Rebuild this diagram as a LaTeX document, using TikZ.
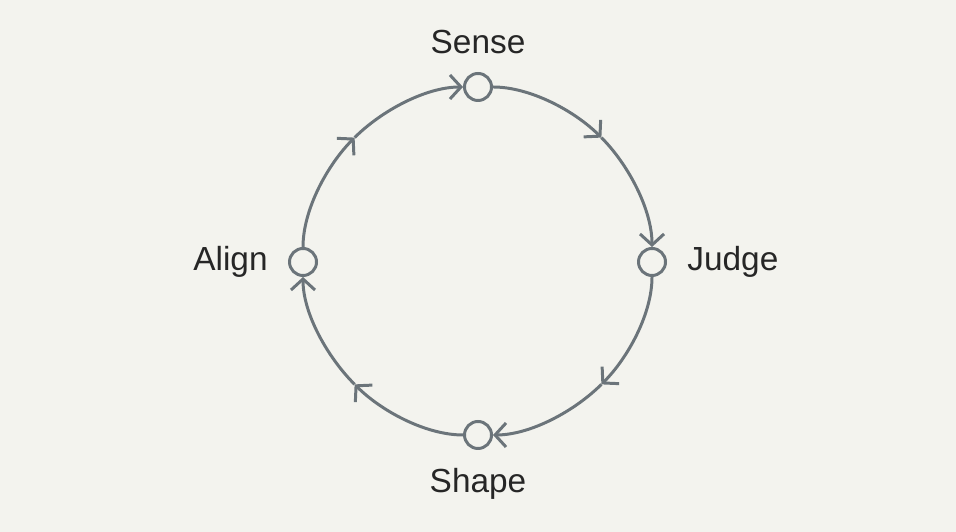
\documentclass[tikz,border=0pt]{standalone}
\usepackage{fontspec}
\setmainfont{Liberation Sans}
\usetikzlibrary{arrows.meta,calc}
\definecolor{loopgray}{HTML}{6B747A}
\definecolor{paper}{HTML}{F3F3EE}
\tikzset{
  stage/.style={circle, draw=loopgray, line width=0.85pt, fill=paper,
    minimum size=0.27cm, inner sep=0pt},
  stagelabel/.style={text=black!85, font=\fontsize{9.5}{12}\selectfont},
  flow/.style={draw=loopgray, line width=0.85pt, looseness=0.8,
    -{Straight Barb[length=1.1mm,width=2.4mm]}}
}
\begin{document}
\begin{tikzpicture}
    % Fond et cadre
    \fill[paper] (0,0) rectangle (9.56,5.32);
    \useasboundingbox (0,0) rectangle (9.56,5.32);

    % Les quatre etapes
    \node[stage] (sense) at (4.78,4.45) {};
    \node[stage] (judge) at (6.52,2.70) {};
    \node[stage] (shape) at (4.78,0.97) {};
    \node[stage] (align) at (3.03,2.70) {};

    % Milieux des arcs
    \coordinate (senseJudge) at ($(4.78,2.71)+(45:1.745)$);
    \coordinate (judgeShape) at ($(4.78,2.71)+(-45:1.745)$);
    \coordinate (shapeAlign) at ($(4.78,2.71)+(-135:1.745)$);
    \coordinate (alignSense) at ($(4.78,2.71)+(135:1.745)$);

    % Etiquettes
    \node[stagelabel, above=0.06cm] (senselbl) at (sense.north) {Sense};
    \node[stagelabel, right=0.08cm] (judgelbl) at (judge.east) {Judge};
    \node[stagelabel, below=0.06cm] (shapelbl) at (shape.south) {Shape};
    \node[stagelabel, left=0.08cm] (alignlbl) at (align.west) {Align};

    % Le cycle
    \draw[flow] (sense) to[out=0, in=135] (senseJudge);
    \draw[flow] (senseJudge) to[out=-45, in=90] (judge);
    \draw[flow] (judge) to[out=-90, in=45] (judgeShape);
    \draw[flow] (judgeShape) to[out=-135, in=0] (shape);
    \draw[flow] (shape) to[out=180, in=-45] (shapeAlign);
    \draw[flow] (shapeAlign) to[out=135, in=-90] (align);
    \draw[flow] (align) to[out=90, in=-135] (alignSense);
    \draw[flow] (alignSense) to[out=45, in=180] (sense);
\end{tikzpicture}
\end{document}
